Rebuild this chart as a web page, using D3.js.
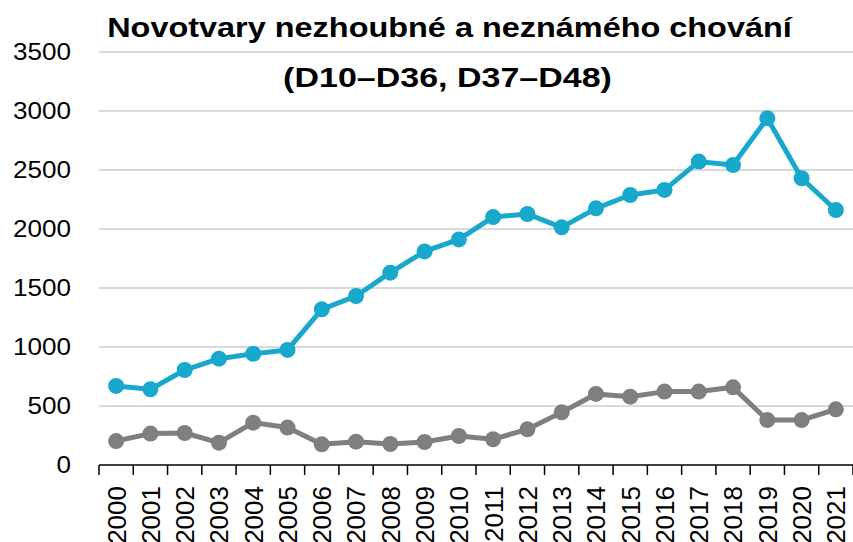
<!DOCTYPE html>
<html>
<head>
<meta charset="utf-8">
<script src="https://cdn.jsdelivr.net/npm/d3@7"></script>
<style>
  html, body { margin: 0; padding: 0; background: #fff; }
  svg { display: block; }
</style>
</head>
<body>
<svg id="chart" width="853" height="542"></svg>
<script>
const years = ["2000","2001","2002","2003","2004","2005","2006","2007","2008","2009","2010","2011","2012","2013","2014","2015","2016","2017","2018","2019","2020","2021"];
const seriesBlue = [670, 641, 805, 901, 943, 975, 1319, 1432, 1630, 1810, 1912, 2101, 2127, 2014, 2175, 2288, 2331, 2571, 2542, 2938, 2430, 2161];
const seriesGray = [203, 266, 271, 189, 359, 317, 175, 198, 178, 195, 246, 218, 302, 446, 602, 579, 622, 622, 658, 381, 381, 472];
const yTicks = [0, 500, 1000, 1500, 2000, 2500, 3000, 3500];
const titleLines = ["Novotvary nezhoubné a neznámého chování", "(D10–D36, D37–D48)"];

(function () {
const mLeft = 99, mRight = 853, mTop = 52, mBottom = 465;
const svg = d3.select("#chart");
const font = "Liberation Sans, Arial, sans-serif";

const x = d3.scaleBand().domain(years).range([mLeft, mRight]).padding(0);
const y = d3.scaleLinear().domain([0, 3500]).range([mBottom, mTop]);

// gridlines
svg.append("g")
  .selectAll("line")
  .data(yTicks.filter(d => d > 0))
  .join("line")
  .attr("x1", mLeft).attr("x2", mRight)
  .attr("y1", d => y(d)).attr("y2", d => y(d))
  .attr("stroke", "#d9d9d9").attr("stroke-width", 2);

// y labels (horizontally widened to match reference glyph proportions)
const yLab = svg.append("g")
  .selectAll("text")
  .data(yTicks)
  .join("text")
  .attr("dy", "0.36em")
  .attr("text-anchor", "end")
  .attr("font-family", font)
  .attr("font-size", 23.5)
  .attr("fill", "#000")
  .text(d => d);
let refW = 0;
yLab.each(function (d) { if (d === 3500) refW = this.getComputedTextLength(); });
const ySx = refW > 0 ? 58 / refW : 1.1;
yLab.attr("transform", d => `translate(71,${y(d)}) scale(${ySx},1)`);

// x axis line + ticks at band edges
const xAxis = svg.append("g");
xAxis.append("line")
  .attr("x1", mLeft).attr("x2", mRight)
  .attr("y1", mBottom).attr("y2", mBottom)
  .attr("stroke", "#000").attr("stroke-width", 1.5);
const edges = years.map(d => x(d)).concat([x(years[years.length - 1]) + x.bandwidth()]);
xAxis.selectAll("line.tick")
  .data(edges)
  .join("line")
  .attr("class", "tick")
  .attr("x1", d => d).attr("x2", d => d)
  .attr("y1", mBottom).attr("y2", mBottom + 10)
  .attr("stroke", "#000").attr("stroke-width", 1.5);

// x labels rotated, anchored at the top
xAxis.selectAll("text")
  .data(years)
  .join("text")
  .attr("transform", d => `translate(${x(d) + x.bandwidth() / 2},${mBottom + 21}) rotate(-90)`)
  .attr("dy", "0.36em")
  .attr("text-anchor", "end")
  .attr("font-family", font)
  .attr("font-size", 26)
  .attr("fill", "#000")
  .text(d => d);

// lines
const line = d3.line()
  .x((d, i) => x(years[i]) + x.bandwidth() / 2)
  .y(d => y(d));

function drawSeries(data, color) {
  const g = svg.append("g");
  g.append("path")
    .datum(data)
    .attr("d", line)
    .attr("fill", "none")
    .attr("stroke", color)
    .attr("stroke-width", 5)
    .attr("stroke-linejoin", "round");
  g.selectAll("circle")
    .data(data)
    .join("circle")
    .attr("cx", (d, i) => x(years[i]) + x.bandwidth() / 2)
    .attr("cy", d => y(d))
    .attr("r", 8)
    .attr("fill", color);
}
drawSeries(seriesGray, "#7f7f7f");
drawSeries(seriesBlue, "#17a8cc");

// title (widened horizontally to reference width)
const title = svg.append("g");
function titleLine(txt, cx, by, targetW) {
  const t = title.append("text")
    .attr("x", 0).attr("y", 0)
    .attr("text-anchor", "middle")
    .attr("font-family", font)
    .attr("font-weight", "bold")
    .attr("font-size", 28.5)
    .attr("fill", "#000")
    .text(txt);
  const w = t.node().getComputedTextLength();
  const sx = w > 0 ? targetW / w : 1;
  t.attr("transform", `translate(${cx},${by}) scale(${sx},1)`);
}
titleLine(titleLines[0], 449.5, 37, 685);
titleLine(titleLines[1], 447.5, 87, 329);
})();
</script>
</body>
</html>
